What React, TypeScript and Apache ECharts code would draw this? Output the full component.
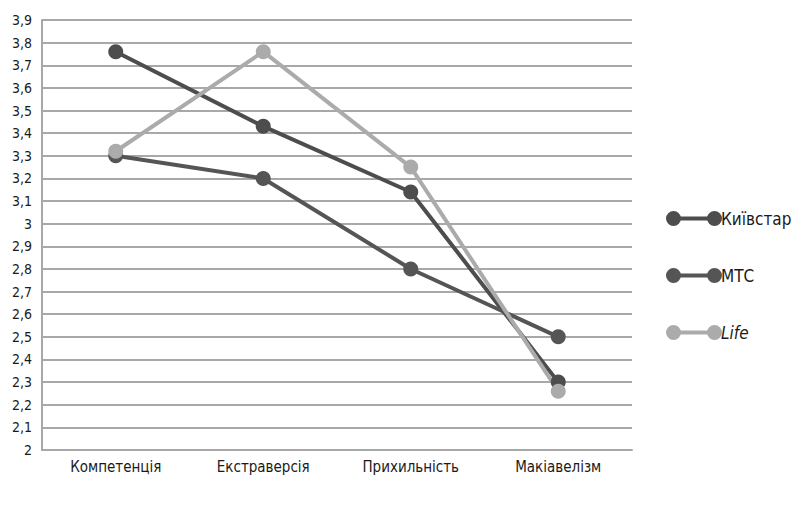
import React, { useEffect, useRef } from "react";
import * as echarts from "echarts";

const categories = ["Компетенція", "Екстраверсія", "Прихильність", "Макіавелізм"];
const seriesNames = ["Київстар", "МТС", "Life"];
const kyivstar = [3.76, 3.43, 3.14, 2.3];
const mts = [3.3, 3.2, 2.8, 2.5];
const life = [3.32, 3.76, 3.25, 2.26];
const seriesColors = ["#4d4d4d", "#555555", "#ababab"];

const FONT = "'Liberation Sans Narrow', 'DejaVu Sans Condensed', 'Roboto', sans-serif";

export default function App() {
  const ref = useRef<HTMLDivElement>(null);
  useEffect(() => {
    if (!ref.current) return;
    const chart = echarts.init(ref.current, undefined, { renderer: "svg" });
    const data = [kyivstar, mts, life];
    chart.setOption({
      animation: false,
      backgroundColor: "#ffffff",
      textStyle: { fontFamily: FONT },
      grid: { left: 42, right: 180, top: 20, bottom: 55 },
      legend: {
        orient: "vertical",
        left: 661,
        top: 205,
        itemWidth: 56,
        itemHeight: 15,
        itemGap: 40,
        icon: "path://M0,7.5 A7.5,7.5 0 1,1 15,7.5 A7.5,7.5 0 1,1 0,7.5 Z M41,7.5 A7.5,7.5 0 1,1 56,7.5 A7.5,7.5 0 1,1 41,7.5 Z M14,5.5 L42,5.5 L42,9.5 L14,9.5 Z",
        data: seriesNames,
        formatter: (n: string) => (n === "Life" ? `{i|${n}}` : n),
        textStyle: {
          fontFamily: FONT,
          fontSize: 17,
          color: "#1a1a1a",
          padding: [0, 0, 0, -6],
          rich: { i: { fontStyle: "italic", fontSize: 17, fontFamily: FONT, color: "#1a1a1a" } },
        },
      },
      xAxis: {
        type: "category",
        data: categories,
        boundaryGap: true,
        axisLine: { show: true, lineStyle: { color: "#a8a8a8", width: 2 } },
        axisTick: { show: false },
        axisLabel: { color: "#1a1a1a", fontSize: 15, fontFamily: FONT, margin: 9 },
        splitLine: { show: false },
      },
      yAxis: {
        type: "value",
        min: 2,
        max: 3.9,
        interval: 0.1,
        axisLine: { show: true, lineStyle: { color: "#a8a8a8", width: 2 } },
        axisTick: { show: false },
        axisLabel: {
          color: "#1a1a1a",
          fontSize: 14,
          fontFamily: FONT,
          margin: 10,
          formatter: (v: number) => String(Math.round(v * 10) / 10).replace(".", ","),
        },
        splitLine: { show: true, lineStyle: { color: "#a8a8a8", width: 2 } },
      },
      series: seriesNames.map((name, i) => ({
        name,
        type: "line",
        data: data[i],
        symbol: "circle",
        symbolSize: 15,
        color: seriesColors[i],
        lineStyle: { width: 4, color: seriesColors[i] },
        itemStyle: { color: seriesColors[i] },
      })),
    });
    return () => chart.dispose();
  }, []);
  return <div ref={ref} style={{ position: "fixed", left: 0, top: 0, width: 812, height: 505 }} />;
}
